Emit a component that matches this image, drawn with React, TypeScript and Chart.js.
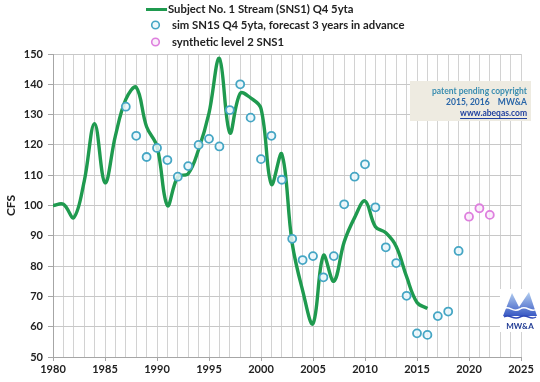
import React, { useEffect, useRef } from 'react';
import { Chart, registerables } from 'chart.js';

Chart.register(...registerables);

// ---------- data ----------
const lineYears = [1980, 1981, 1982, 1983, 1984, 1985, 1986, 1987, 1988, 1989, 1990, 1991, 1992, 1993, 1994, 1995, 1996, 1997, 1998, 1999, 2000, 2001, 2002, 2003, 2004, 2005, 2006, 2007, 2008, 2009, 2010, 2011, 2012, 2013, 2014, 2015, 2016];
const lineValues = [100, 100.4, 96, 108, 127, 107.5, 123, 135, 139, 126, 119.5, 100, 109.5, 110.5, 118.5, 130.5, 148.5, 124, 137, 135.5, 132, 107, 117, 87.5, 72, 61, 83.5, 75, 88, 96, 101.5, 93, 91, 86.5, 76.5, 68, 66];

const simYears = [1987, 1988, 1989, 1990, 1991, 1992, 1993, 1994, 1995, 1996, 1997, 1998, 1999, 2000, 2001, 2002, 2003, 2004, 2005, 2006, 2007, 2008, 2009, 2010, 2011, 2012, 2013, 2014, 2015, 2016, 2017, 2018, 2019];
const simValues = [132.6, 123, 116, 119, 115, 109.5, 113, 120, 122, 119.5, 131.5, 140, 129, 115.3, 123, 108.5, 89, 82, 83.3, 76.3, 83.3, 100.4, 109.5, 113.6, 99.4, 86.2, 81, 70.2, 57.8, 57.3, 63.5, 65, 85];

const synthYears = [2020, 2021, 2022];
const synthValues = [96.3, 99.1, 96.9];

const xLabelYears = [1980, 1985, 1990, 1995, 2000, 2005, 2010, 2015, 2020, 2025];
const yTickValues = [50, 60, 70, 80, 90, 100, 110, 120, 130, 140, 150];

const legendLabels = [
  'Subject No. 1 Stream (SNS1) Q4 5yta',
  'sim SN1S Q4 5yta, forecast 3 years in advance',
  'synthetic level 2 SNS1',
];
const noteLines = ['patent pending copyright', '2015, 2016    MW&A', 'www.abeqas.com'];
const logoText = 'MW&A';
const yTitle = 'CFS';

// ---------- styles ----------
const FONT = 'Lato, "Liberation Sans", sans-serif';
const GREEN = '#1f9a4f';
const SIM = '#45a6c4';
const PINK = '#de7fde';
const TEXT = '#222222';

const decorPlugin = {
  id: 'decor',
  afterDraw(chart: any) {
    const ctx = chart.ctx as CanvasRenderingContext2D;
    ctx.save();
    // Legend
    ctx.font = `bold 11.3px ${FONT}`;
    ctx.textBaseline = 'middle';
    ctx.textAlign = 'left';
    ctx.fillStyle = TEXT;
    ctx.strokeStyle = GREEN;
    ctx.lineWidth = 3;
    ctx.beginPath();
    ctx.moveTo(146, 9.5);
    ctx.lineTo(167, 9.5);
    ctx.stroke();
    ctx.fillText(legendLabels[0], 168, 9.5);

    ctx.lineWidth = 1.6;
    ctx.strokeStyle = SIM;
    ctx.fillStyle = 'rgba(235,247,251,0.9)';
    ctx.beginPath();
    ctx.arc(155.5, 25, 3.8, 0, Math.PI * 2);
    ctx.fill();
    ctx.stroke();
    ctx.fillStyle = TEXT;
    ctx.fillText(legendLabels[1], 172, 25);

    ctx.strokeStyle = PINK;
    ctx.fillStyle = 'rgba(250,236,250,0.9)';
    ctx.beginPath();
    ctx.arc(155.5, 42, 3.8, 0, Math.PI * 2);
    ctx.fill();
    ctx.stroke();
    ctx.fillStyle = TEXT;
    ctx.fillText(legendLabels[2], 172, 42);

    // Note box
    ctx.fillStyle = '#eeebe1';
    ctx.fillRect(410, 81, 121, 40);
    ctx.textAlign = 'right';
    ctx.font = `bold 8.5px ${FONT}`;
    ctx.fillStyle = '#3a8db0';
    ctx.fillText(noteLines[0], 527, 91);
    ctx.fillStyle = '#2a66a8';
    ctx.fillText(noteLines[1], 527, 102);
    ctx.fillStyle = '#1f3f9f';
    ctx.fillText(noteLines[2], 527, 113);
    const w = ctx.measureText(noteLines[2]).width;
    ctx.fillRect(527 - w, 118, w, 1);

    // Logo
    ctx.fillStyle = '#ffffff';
    ctx.fillRect(500, 289, 40, 43);
    const g = ctx.createLinearGradient(0, 291, 0, 318);
    g.addColorStop(0, '#b9d4f2');
    g.addColorStop(1, '#2f4fc0');
    ctx.fillStyle = g;
    ctx.beginPath();
    ctx.moveTo(503, 316);
    ctx.lineTo(512, 293);
    ctx.lineTo(519, 307);
    ctx.lineTo(529, 292);
    ctx.lineTo(537, 316);
    ctx.closePath();
    ctx.fill();
    ctx.strokeStyle = '#ffffff';
    ctx.lineWidth = 1.5;
    ctx.beginPath();
    ctx.moveTo(503, 309);
    ctx.bezierCurveTo(510, 304, 512, 314, 520, 309);
    ctx.bezierCurveTo(527, 304, 530, 314, 537, 309);
    ctx.stroke();
    ctx.strokeStyle = '#3049b8';
    ctx.lineWidth = 1.5;
    ctx.beginPath();
    ctx.moveTo(504, 317);
    ctx.bezierCurveTo(510, 313, 513, 321, 520, 317);
    ctx.bezierCurveTo(527, 313, 530, 321, 536, 317);
    ctx.stroke();
    ctx.textAlign = 'center';
    ctx.font = `bold 8px ${FONT}`;
    ctx.fillStyle = '#1f3a93';
    ctx.fillText(logoText, 520, 326);
    ctx.restore();
  },
};

export default function App() {
  const ref = useRef<HTMLCanvasElement | null>(null);
  useEffect(() => {
    document.body.style.margin = '0';
    const canvas = ref.current;
    if (!canvas) return;
    const chart = new Chart(canvas, {
      type: 'line',
      data: {
        datasets: [
          {
            label: legendLabels[1],
            data: simYears.map((x, i) => ({ x, y: simValues[i] })),
            showLine: false,
            pointRadius: 4,
            pointBorderWidth: 1.8,
            pointBorderColor: SIM,
            pointBackgroundColor: 'rgba(235,247,251,0.85)',
            order: 1,
          },
          {
            label: legendLabels[2],
            data: synthYears.map((x, i) => ({ x, y: synthValues[i] })),
            showLine: false,
            pointRadius: 4,
            pointBorderWidth: 1.8,
            pointBorderColor: PINK,
            pointBackgroundColor: 'rgba(250,236,250,0.85)',
            order: 2,
          },
          {
            label: legendLabels[0],
            data: lineYears.map((x, i) => ({ x, y: lineValues[i] })),
            borderColor: GREEN,
            borderWidth: 3.4,
            tension: 0.38,
            pointRadius: 0,
            fill: false,
            order: 3,
          },
        ],
      },
      options: {
        responsive: false,
        animation: false,
        layout: { padding: { top: 54, right: 19, left: 0, bottom: 0 } },
        plugins: { legend: { display: false }, tooltip: { enabled: false } },
        scales: {
          x: {
            type: 'linear',
            min: 1980,
            max: 2025,
            ticks: {
              stepSize: 1,
              autoSkip: false,
              maxRotation: 0,
              padding: 2,
              color: TEXT,
              font: { family: FONT, size: 11, weight: 'bold' },
              callback: (v: any) => (xLabelYears.includes(Number(v)) ? String(v) : ''),
            },
            grid: {
              color: '#d2d2d2',
              tickLength: 4,
              tickColor: (c: any) => (c.tick && xLabelYears.includes(c.tick.value) ? '#a6a6a6' : 'rgba(0,0,0,0)'),
            },
            border: { color: '#a6a6a6' },
            afterFit: (s: any) => {
              s.height = 25;
            },
          },
          y: {
            type: 'linear',
            min: 50,
            max: 150,
            afterBuildTicks: (s: any) => {
              s.ticks = yTickValues.map((value) => ({ value }));
            },
            ticks: {
              padding: 5,
              color: TEXT,
              font: { family: FONT, size: 11, weight: 'bold' },
            },
            grid: { color: '#c8c8c8', tickLength: 5, tickColor: '#a6a6a6' },
            border: { color: '#a6a6a6' },
            title: {
              display: true,
              text: yTitle,
              color: TEXT,
              font: { family: FONT, size: 12, weight: 'bold' },
              padding: { top: 4, bottom: 4 },
            },
            afterFit: (s: any) => {
              s.width = 53;
            },
          },
        },
      },
      plugins: [decorPlugin],
    } as any);
    return () => chart.destroy();
  }, []);
  return (
    <div style={{ width: 540, height: 382, background: '#ffffff' }}>
      <canvas ref={ref} width={540} height={382} style={{ display: 'block' }} />
    </div>
  );
}
